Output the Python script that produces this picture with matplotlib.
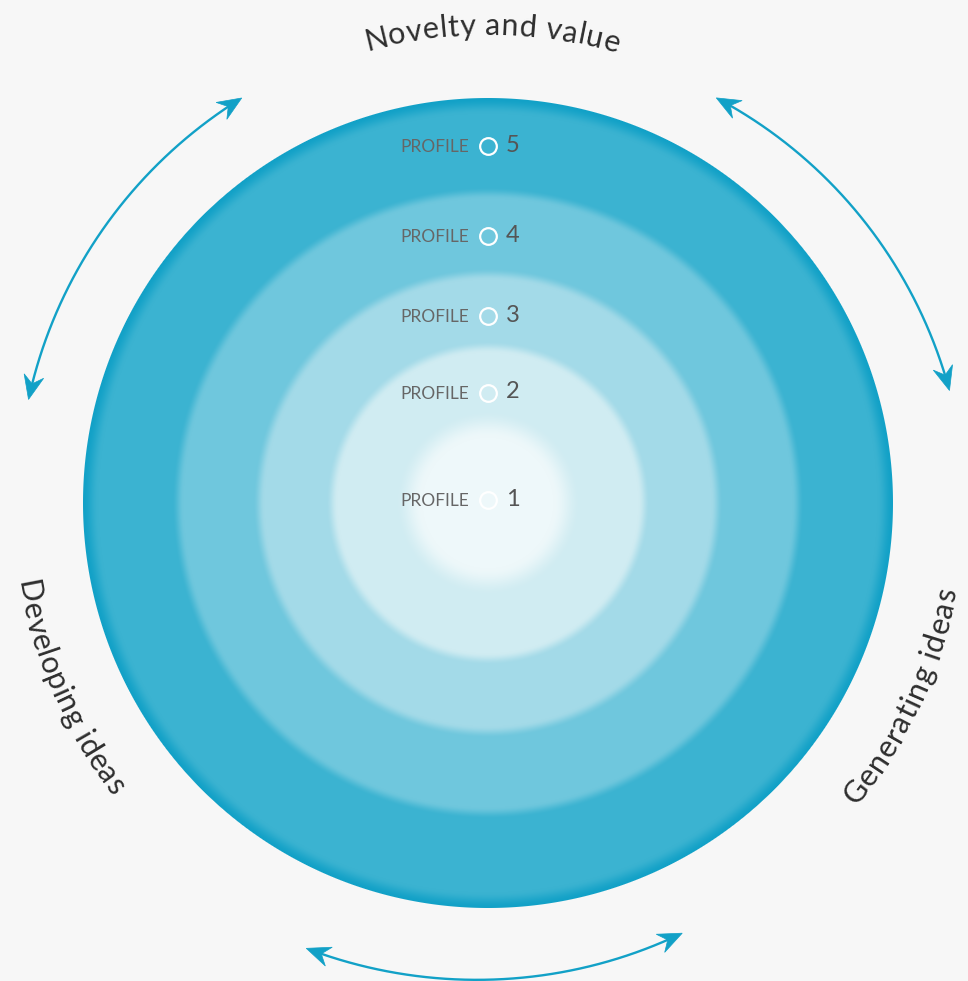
import numpy as np
import matplotlib
matplotlib.use("Agg")
import matplotlib.pyplot as plt
from matplotlib import font_manager
from matplotlib.ft2font import FT2Font
from matplotlib.patches import Polygon
from matplotlib.colors import to_rgb

# ==== data ====
CENTER = (488, 503)
ring_radius = [405, 310, 229, 156, 79]
ring_color = ["#3BB3D1", "#6FC7DD", "#A3DAE8", "#D0ECF2", "#EEF8FA"]
rim_color = "#12A1C7"

profile_num = ["5", "4", "3", "2", "1"]
profile_y = [146, 236, 316, 393, 500]

label_text = ["Novelty and value", "Developing ideas", "Generating ideas"]
label_theta = [(105.0, 74.0), (189.5, 218.0), (-39.5, -10.5)]
label_r = [468, 477, 477]
label_dir = [-1, 1, 1]      # -1: clockwise (tops outward), 1: counter-clockwise (tops inward)

arrow_theta = [(167.3, 121.3), (60.6, 13.7), (247.8, 294.3)]
arrow_r = [(471, 474), (465, 475), (481, 472)]

BG = "#F7F7F7"
ARROW_C = "#12A1C7"
FONT = "Lato"

fig = plt.figure(figsize=(9.68, 9.81), dpi=100)
fig.patch.set_facecolor(BG)
ax = fig.add_axes([0, 0, 1, 1])
ax.set_xlim(0, 968)
ax.set_ylim(981, 0)
ax.axis("off")
ax.set_facecolor(BG)


def smooth(t):
    t = np.clip(t, 0, 1)
    return t * t * (3 - 2 * t)


def polar(r, th):
    t = np.deg2rad(th)
    return CENTER[0] + r * np.cos(t), CENTER[1] - r * np.sin(t)


# ---- shaded disk ----
R0 = ring_radius[0]
n = 2 * R0
g = np.arange(n) + 0.5 - R0
xx, yy = np.meshgrid(g, g)
rr = np.hypot(xx, yy)
img = np.ones((n, n, 4))
col = np.empty((n, n, 3))
col[:] = to_rgb(ring_color[0])
w = smooth((rr - (R0 - 16)) / 16)
col = col * (1 - w[..., None]) + np.array(to_rgb(rim_color)) * w[..., None]
for i, (rad, c) in enumerate(zip(ring_radius[1:], ring_color[1:])):
    hw = 6 if i < 3 else 14
    w = smooth((rad + hw - rr) / (2 * hw))
    col = col * (1 - w[..., None]) + np.array(to_rgb(c)) * w[..., None]
img[..., :3] = col
img[..., 3] = np.clip(R0 - rr + 0.5, 0, 1)
ax.imshow(img, extent=(CENTER[0] - R0, CENTER[0] + R0, CENTER[1] + R0, CENTER[1] - R0),
          interpolation="bilinear", zorder=1)

# ---- profile labels ----
for num, y in zip(profile_num, profile_y):
    ax.plot(CENTER[0], y, "o", mfc="none", mec="white", ms=12, mew=1.6, zorder=3)
    ax.text(469, y + 1, "PROFILE", ha="right", va="center", fontsize=12.5,
            color="#666666", family=FONT, zorder=3)
    ax.text(506, y - 1, num, ha="left", va="center", fontsize=17,
            color="#555555", family=FONT, zorder=3)

# ---- curved labels ----
fp = font_manager.FontProperties(family=FONT, weight="normal")
ft = FT2Font(font_manager.findfont(fp))
LABEL_SIZE = 22


def advances(s, size):
    ft.set_size(size, 100)
    return np.array([ft.load_char(ord(ch)).linearHoriAdvance / 65536 for ch in s])


for s, (t0, t1), r, d in zip(label_text, label_theta, label_r, label_dir):
    adv = advances(s, LABEL_SIZE)
    span = r * np.deg2rad(abs(t1 - t0))
    extra = (span - adv.sum()) / (len(s) - 1)
    pos = np.cumsum(adv + extra) - adv - extra + adv / 2
    for ch, p in zip(s, pos):
        th = t0 + d * np.rad2deg(p / r)
        x, y = polar(r, th)
        rot = th - 90 if d < 0 else th + 90
        ax.text(x, y, ch, rotation=rot, rotation_mode="anchor", ha="center",
                va="baseline", color="#2E2E2E", fontproperties=fp,
                fontsize=LABEL_SIZE, zorder=3)


# ---- curved double arrows ----
def head(tip, direction, length=24, half=10, notch=8):
    d = direction / np.hypot(*direction)
    nrm = np.array([-d[1], d[0]])
    tip = np.asarray(tip)
    base = tip - d * length
    pts = [tip, base + nrm * half, tip - d * (length - notch), base - nrm * half]
    ax.add_patch(Polygon(pts, closed=True, fc=ARROW_C, ec=ARROW_C, lw=0.5, zorder=4))
    return tip - d * (length - notch)


for (t0, t1), (r0, r1) in zip(arrow_theta, arrow_r):
    ts = np.linspace(t0, t1, 200)
    rs = np.linspace(r0, r1, 200)
    xs, ys = polar(rs, ts)
    p0 = np.array([xs[0], ys[0]])
    p1 = np.array([xs[-1], ys[-1]])
    b0 = head(p0, p0 - np.array([xs[6], ys[6]]))
    b1 = head(p1, p1 - np.array([xs[-7], ys[-7]]))
    keep = slice(8, -8)
    ax.plot(np.r_[b0[0], xs[keep], b1[0]], np.r_[b0[1], ys[keep], b1[1]],
            color=ARROW_C, lw=1.7, solid_capstyle="butt", zorder=4)

fig.savefig("out.png", dpi=100, facecolor=BG)
